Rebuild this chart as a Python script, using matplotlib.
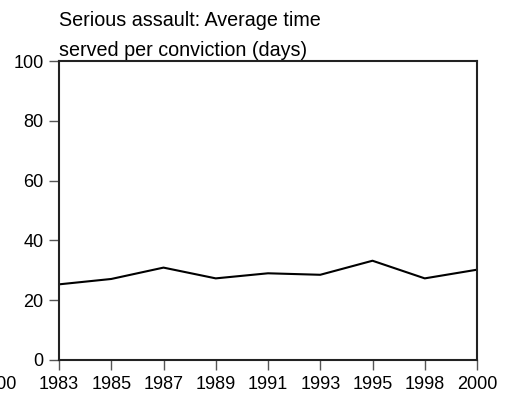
import matplotlib
matplotlib.use("Agg")
import matplotlib.pyplot as plt
import numpy as np

years = ["1983", "1985", "1987", "1989", "1991", "1993", "1995", "1998", "2000"]
days = [25.3, 27.1, 30.9, 27.3, 29.0, 28.5, 33.2, 27.3, 30.2]
y_ticks = [0, 20, 40, 60, 80, 100]

plt.rcParams["font.family"] = ["Liberation Sans", "DejaVu Sans"]

fig = plt.figure(figsize=(5.15, 3.93), dpi=100)
ax = fig.add_axes([59 / 515, 1 - 360 / 393, (477 - 59) / 515, (360 - 61) / 393])

x = np.arange(len(years))
ax.plot(x, days, color="black", linewidth=1.5)

ax.set_xlim(0, len(years) - 1)
ax.set_ylim(0, 100)
ax.set_xticks(x)
ax.set_xticklabels(years)
ax.set_yticks(y_ticks)

for s in ax.spines.values():
    s.set_linewidth(1.5)
    s.set_color("#222222")

ax.tick_params(axis="both", direction="out", length=7, width=1, color="#555555",
               labelsize=13)
ax.tick_params(axis="x", pad=4.5)
ax.tick_params(axis="y", pad=4)

ax.text(0, 1.0167, "Serious assault: Average time\nserved per conviction (days)",
        transform=ax.transAxes, ha="left", va="baseline", fontsize=14.2,
        linespacing=1.75)

# clipped label from the neighbouring panel
fig.text(-3.5 / 515, 1 - 389 / 393, "2000", ha="center", va="baseline", fontsize=13)

fig.savefig("out.png", dpi=100)
